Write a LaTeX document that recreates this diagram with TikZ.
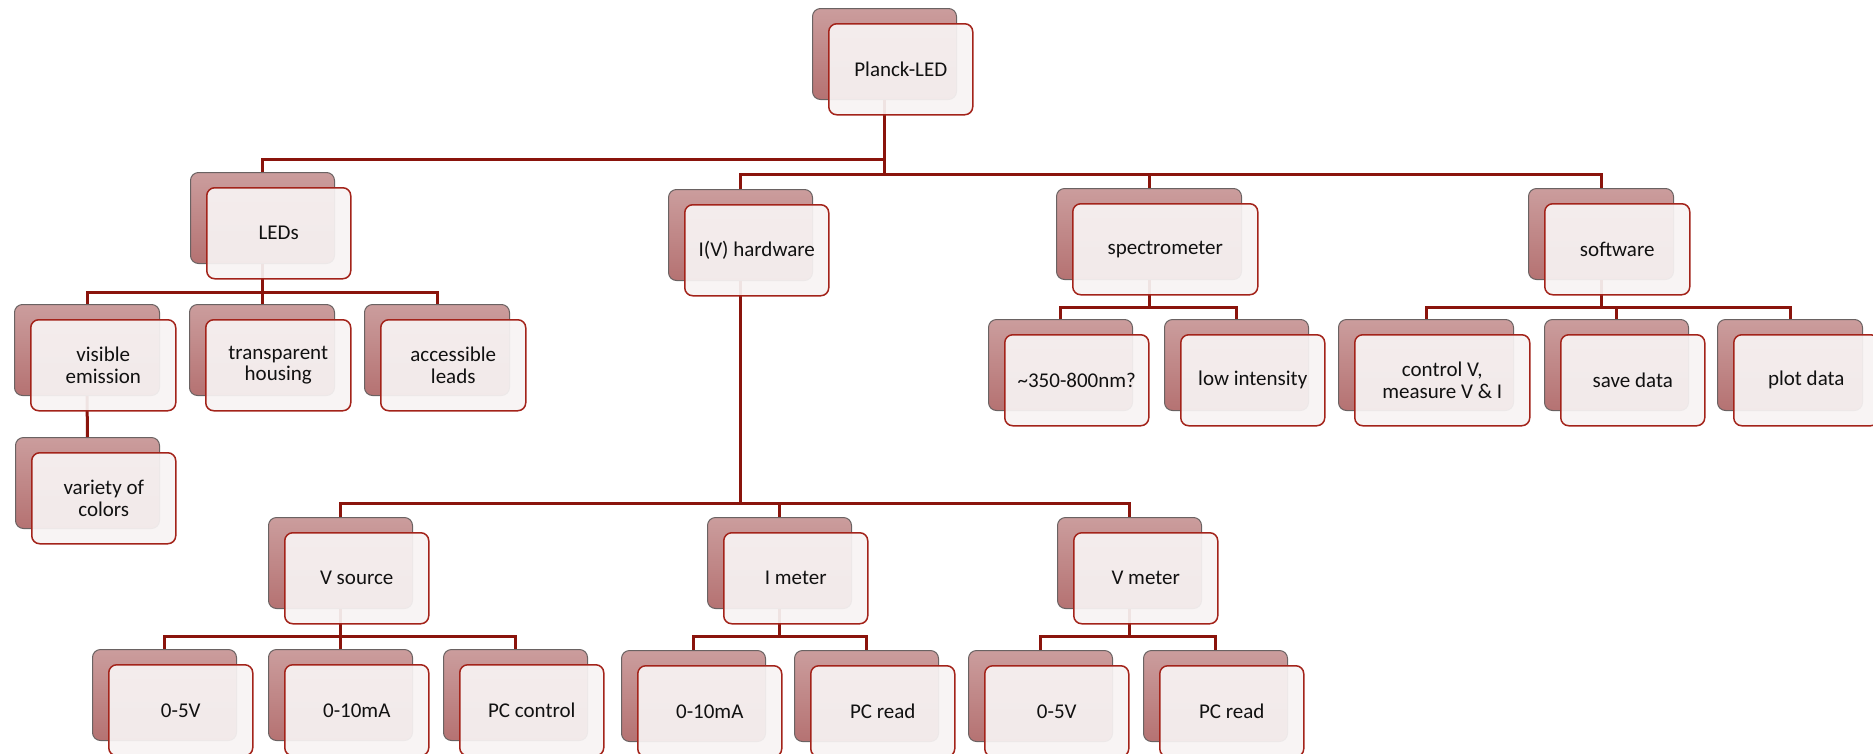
\documentclass[tikz,border=0pt]{standalone}
\usepackage{fontspec}
\setmainfont{Carlito}
\usetikzlibrary{calc}
\pgfdeclarelayer{backl}
\pgfdeclarelayer{connl}
\pgfsetlayers{backl,connl,main}

\definecolor{backtop}{HTML}{CB9D9D}
\definecolor{backbot}{HTML}{B57272}
\definecolor{backline}{HTML}{6A6262}
\definecolor{frontfill}{HTML}{F7F3F3}
\definecolor{frontline}{HTML}{A3231A}
\definecolor{connline}{HTML}{8A140C}
\definecolor{textcol}{HTML}{111111}

\tikzset{
  backbox/.style={anchor=north west, rounded corners=8pt, draw=backline,
    line width=1pt, top color=backtop, bottom color=backbot,
    minimum height=91pt, inner sep=0pt},
  frontbox/.style={anchor=north west, rounded corners=8pt, draw=frontline,
    line width=1.5pt, fill=frontfill, fill opacity=0.93, text opacity=1,
    minimum height=91pt, inner sep=2pt, align=center, text=textcol,
    font=\fontsize{21}{21.5}\selectfont},
  conn/.style={draw=connline, line width=3pt}
}

% a shaded back card and a pale front card holding the label
\newcommand\pairbox[5]{%
  \begin{pgfonlayer}{backl}
    \node[backbox, minimum width=#4pt] (#1) at (#2,#3) {};
  \end{pgfonlayer}
  \node[frontbox, minimum width=#4pt] (#1-f) at ({#2+16},{#3+15}) {#5};
}

\begin{document}
\begin{tikzpicture}[x=1pt, y=-1pt]
\useasboundingbox (0,0) rectangle (1873,753);
\clip (0,0) rectangle (1873,753);

% root
\pairbox{root}{812}{8}{144}{Planck-LED}

% first level
\pairbox{leds}{190}{172}{144}{LEDs}
\pairbox{iv}{668}{189}{144}{I(V) hardware}
\pairbox{spec}{1056}{188}{185}{spectrometer}
\pairbox{soft}{1528}{188}{145}{software}

% LEDs branch
\pairbox{vis}{14}{304}{145}{visible\\emission}
\pairbox{trans}{189}{304}{145}{transparent\\housing}
\pairbox{acc}{364}{304}{145}{accessible\\leads}
\pairbox{var}{15}{437}{144}{variety of\\colors}

% spectrometer branch
\pairbox{nm}{988}{319}{144}{\textasciitilde350-800nm?}
\pairbox{low}{1164}{319}{144}{low intensity}

% software branch
\pairbox{ctrl}{1338}{319}{175}{control V,\\measure V \& I}
\pairbox{save}{1544}{319}{144}{save data}
\pairbox{plot}{1717}{319}{145}{plot data}

% I(V) hardware branch
\pairbox{vsrc}{268}{517}{144}{V source}
\pairbox{imet}{707}{517}{144}{I meter}
\pairbox{vmet}{1057}{517}{144}{V meter}

\pairbox{v05}{92}{649}{144}{0-5V}
\pairbox{v10}{268}{649}{144}{0-10mA}
\pairbox{pcc}{443}{649}{144}{PC control}

\pairbox{i10}{621}{650}{144}{0-10mA}
\pairbox{ipc}{794}{650}{144}{PC read}

\pairbox{m05}{968}{650}{144}{0-5V}
\pairbox{mpc}{1143}{650}{144}{PC read}

% bus levels
\coordinate (busA) at (0,159);
\coordinate (busB) at (0,174);
\coordinate (busL) at (0,292);
\coordinate (busS) at (0,307);
\coordinate (busI) at (0,503);
\coordinate (busT) at (0,636);

\begin{pgfonlayer}{connl}
  \draw[conn] (root.south) -- (root.south |- busA) -| (leds.north);
  \draw[conn] (root.south) -- (root.south |- busB) -| (iv.north);
  \draw[conn] (root.south |- busB) -| (spec.north);
  \draw[conn] (root.south |- busB) -| (soft.north);

  \draw[conn] (leds.south) -- (leds.south |- busL) -| (vis.north);
  \draw[conn] (leds.south |- busL) -| (trans.north);
  \draw[conn] (leds.south |- busL) -| (acc.north);
  \draw[conn] (vis.south) -- (var.north);

  \draw[conn] (spec.south) -- (spec.south |- busS) -| (nm.north);
  \draw[conn] (spec.south |- busS) -| (low.north);

  \draw[conn] (soft.south) -- (soft.south |- busS) -| (ctrl.north);
  \draw[conn] (soft.south |- busS) -| (save.north);
  \draw[conn] (soft.south |- busS) -| (plot.north);

  \draw[conn] (iv.south) -- (iv.south |- busI) -| (vsrc.north);
  \draw[conn] (iv.south |- busI) -| (imet.north);
  \draw[conn] (iv.south |- busI) -| (vmet.north);

  \draw[conn] (vsrc.south) -- (vsrc.south |- busT) -| (v05.north);
  \draw[conn] (vsrc.south |- busT) -| (v10.north);
  \draw[conn] (vsrc.south |- busT) -| (pcc.north);

  \draw[conn] (imet.south) -- (imet.south |- busT) -| (i10.north);
  \draw[conn] (imet.south |- busT) -| (ipc.north);

  \draw[conn] (vmet.south) -- (vmet.south |- busT) -| (m05.north);
  \draw[conn] (vmet.south |- busT) -| (mpc.north);
\end{pgfonlayer}
\end{tikzpicture}
\end{document}
